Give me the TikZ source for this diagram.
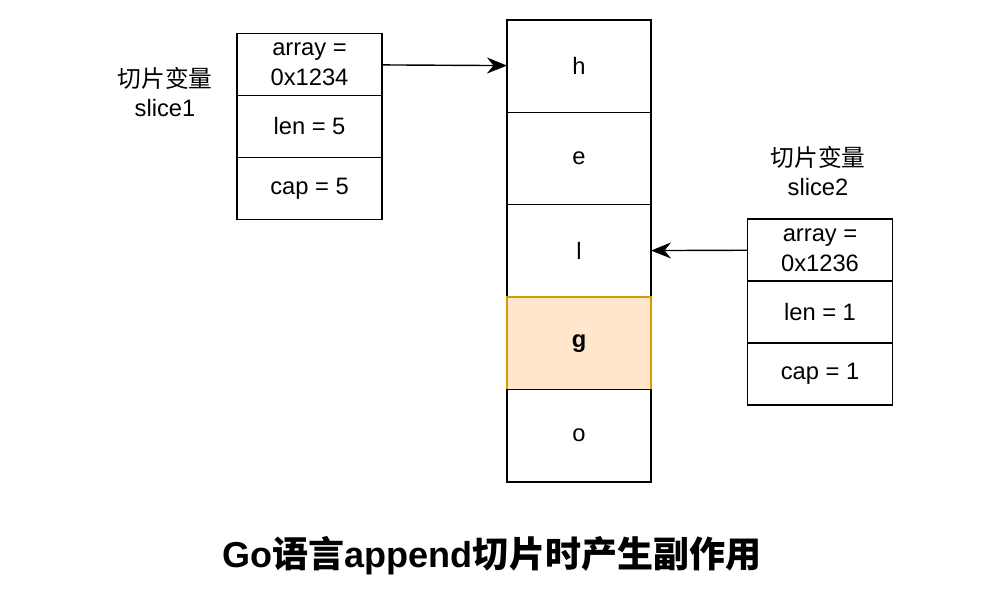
\documentclass[tikz,border=0pt]{standalone}
\usepackage{fontspec}
\setmainfont{Liberation Sans}
\newfontfamily\cjk{Noto Sans CJK SC}
\usepackage{tikz}
\usetikzlibrary{arrows.meta,positioning}
\definecolor{GFill}{HTML}{FFE6CC}
\definecolor{GLine}{HTML}{D79B00}

\begin{document}
\begin{tikzpicture}[
  node distance=0pt,
  cell/.style={draw,line width=0.8pt,outer sep=0pt,minimum width=2.88cm,
    minimum height=1.848cm,font=\fontsize{13.5}{17}\selectfont},
  fld/.style={draw,line width=0.8pt,outer sep=0pt,minimum width=2.9cm,
    minimum height=1.24cm,align=center,font=\fontsize{13.5}{17}\selectfont},
  lbl/.style={align=center,font=\fontsize{13.5}{16.5}\selectfont},
  a/.style={-{Stealth[length=4mm,width=3.2mm]},line width=0.8pt}
]
  \useasboundingbox (0,0) rectangle (20.12,-12.2);
  % backing array
  \node[cell] (h) at (11.58,-1.32) {h};
  \node[cell,below=of h] (e) {e};
  \node[cell,below=of e] (l) {l};
  \node[cell,below=of l,fill=GFill,draw=GLine,font=\fontsize{13.5}{17}\selectfont\bfseries] (g) {g};
  \node[cell,below=of g] (o) {o};
  % slice1
  \node[fld] (arr1) at (6.19,-1.29) {array =\\0x1234};
  \node[fld,below=of arr1] (len1) {len = 5};
  \node[fld,below=of len1] (cap1) {cap = 5};
  \node[lbl] (s1) at (3.3,-1.84) {{\cjk 切片变量}\\slice1};
  % slice2
  \node[fld] (arr2) at (16.4,-5.0) {array =\\0x1236};
  \node[fld,below=of arr2] (len2) {len = 1};
  \node[fld,below=of len2] (cap2) {cap = 1};
  \node[lbl] (s2) at (16.36,-3.42) {{\cjk 切片变量}\\slice2};
  \draw[a] (arr1) -- (h);
  \draw[a] (arr2) -- (l);
  \node[font=\fontsize{20.5}{24}\selectfont\bfseries] (title) at (9.84,-11.12)
    {Go{\cjk 语言}append{\cjk 切片时产生副作用}};
\end{tikzpicture}
\end{document}
